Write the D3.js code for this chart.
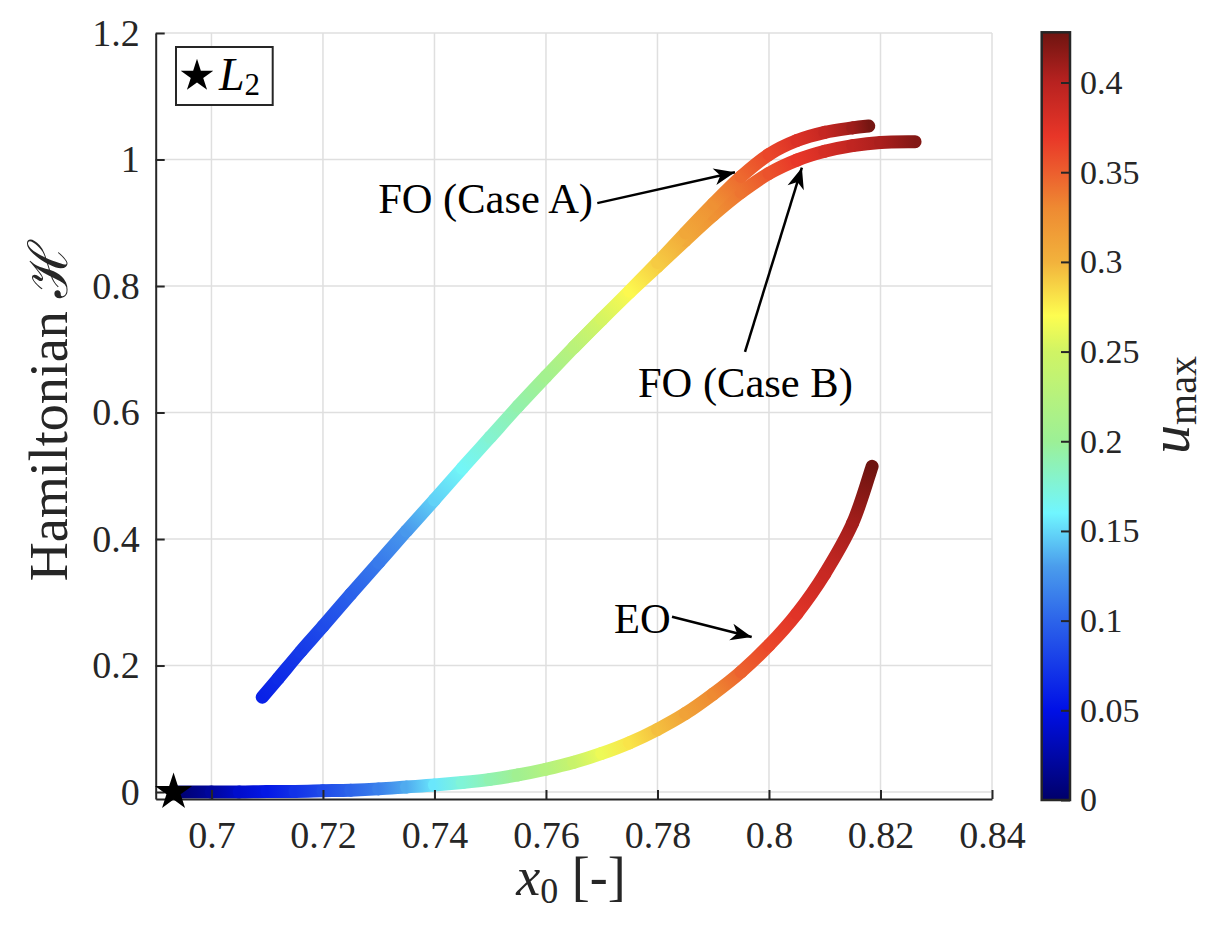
<!DOCTYPE html>
<html>
<head>
<meta charset="utf-8">
<script src="https://cdn.jsdelivr.net/npm/d3@7"></script>
<style>
  body { margin: 0; background: #fff; }
  svg { display: block; font-family: 'Liberation Serif', 'Times New Roman', serif; }
</style>
</head>
<body>
<svg id="chart" width="1206" height="928"></svg>
<script>
// FO (Case A)
const foAx = [0.7091, 0.712, 0.716, 0.72, 0.725, 0.73, 0.735, 0.74, 0.745, 0.75, 0.755, 0.76, 0.765, 0.77, 0.775, 0.78, 0.785, 0.79, 0.795, 0.8, 0.805, 0.81, 0.815, 0.8179];
const foAH = [0.15, 0.18, 0.222, 0.262, 0.313, 0.363, 0.413, 0.462, 0.512, 0.561, 0.61, 0.657, 0.703, 0.748, 0.792, 0.837, 0.884, 0.93, 0.973, 1.008, 1.03, 1.043, 1.05, 1.053];
const foAU = [0.06, 0.066, 0.075, 0.085, 0.098, 0.112, 0.128, 0.148, 0.163, 0.178, 0.192, 0.207, 0.228, 0.252, 0.272, 0.29, 0.308, 0.325, 0.345, 0.362, 0.378, 0.392, 0.41, 0.425];

// FO (Case B), splits off from case A
const foBx = [0.765, 0.77, 0.775, 0.78, 0.785, 0.79, 0.795, 0.8, 0.805, 0.81, 0.815, 0.82, 0.8262];
const foBH = [0.703, 0.747, 0.79, 0.831, 0.872, 0.912, 0.948, 0.978, 0.999, 1.013, 1.022, 1.027, 1.028];
const foBU = [0.228, 0.252, 0.272, 0.289, 0.306, 0.323, 0.34, 0.356, 0.37, 0.382, 0.395, 0.405, 0.42];

// EO
const eoX = [0.6932, 0.7, 0.705, 0.71, 0.715, 0.72, 0.725, 0.73, 0.735, 0.74, 0.745, 0.75, 0.755, 0.76, 0.765, 0.77, 0.775, 0.78, 0.785, 0.79, 0.795, 0.8, 0.805, 0.81, 0.815, 0.8185];
const eoH = [0, 0, 0, 0.001, 0.001, 0.002, 0.003, 0.005, 0.008, 0.011, 0.015, 0.02, 0.027, 0.036, 0.047, 0.061, 0.078, 0.099, 0.124, 0.155, 0.19, 0.232, 0.282, 0.345, 0.425, 0.515];
const eoU = [0, 0.02, 0.04, 0.055, 0.07, 0.085, 0.1, 0.115, 0.135, 0.155, 0.175, 0.19, 0.205, 0.222, 0.242, 0.263, 0.28, 0.295, 0.312, 0.33, 0.348, 0.362, 0.375, 0.39, 0.408, 0.428];

const l2X = 0.6932;
const l2H = 0;

const xTicks = [0.7, 0.72, 0.74, 0.76, 0.78, 0.8, 0.82, 0.84];
const xTickLabels = ['0.7', '0.72', '0.74', '0.76', '0.78', '0.8', '0.82', '0.84'];
const yTicks = [0, 0.2, 0.4, 0.6, 0.8, 1, 1.2];
const yTickLabels = ['0', '0.2', '0.4', '0.6', '0.8', '1', '1.2'];
const cbTicks = [0, 0.05, 0.1, 0.15, 0.2, 0.25, 0.3, 0.35, 0.4];
const cbTickLabels = ['0', '0.05', '0.1', '0.15', '0.2', '0.25', '0.3', '0.35', '0.4'];

const cmapVals = [0, 0.05, 0.1, 0.13, 0.16, 0.2, 0.25, 0.27, 0.3, 0.33, 0.35, 0.37, 0.4, 0.428];
const cmapColors = ['#00006a', '#0010e6', '#2c64ea', '#4a9cec', '#70f6ff', '#9cf096', '#d0f464', '#fdfd50', '#f2b23c', '#ee8a32', '#ec5e2e', '#e83628', '#b82220', '#6e1410'];

// annotations: text position, arrow tail, arrow tip (data units)
const notes = [
  {label: 'FO (Case A)', tx: 0.7299, th: 0.915, ax: 0.7692, ah: 0.931, bx: 0.7939, bh: 0.98},
  {label: 'FO (Case B)', tx: 0.7765, th: 0.625, ax: 0.7957, ah: 0.696, bx: 0.8059, bh: 0.987},
  {label: 'EO', tx: 0.7722, th: 0.251, ax: 0.7826, ah: 0.277, bx: 0.7969, bh: 0.245},
];

const svg = d3.select('#chart');
const defs = svg.append('defs');
const axisColor = '#262626';

const x = d3.scaleLinear().domain([0.69, 0.84]).range([155.7, 992]);
const y = d3.scaleLinear().domain([-0.011, 1.2]).range([799, 33]);
const color = d3.scaleLinear().domain(cmapVals).range(cmapColors).interpolate(d3.interpolateRgb);

// grid
const grid = svg.append('g').attr('stroke', '#dfdfdf').attr('stroke-width', 1.5);
grid.selectAll('.gx').data(xTicks).join('line')
  .attr('x1', (d) => x(d)).attr('x2', (d) => x(d)).attr('y1', y.range()[0]).attr('y2', y.range()[1]);
grid.selectAll('.gy').data(yTicks).join('line')
  .attr('y1', (d) => y(d)).attr('y2', (d) => y(d)).attr('x1', x.range()[0]).attr('x2', x.range()[1]);

// colored curves, one gradient per segment, cardinal-smoothed
function drawCurve(xs, hs, us, id) {
  const pts = xs.map((v, i) => [x(v), y(hs[i])]);
  const g = svg.append('g');
  for (let i = 0; i < pts.length - 1; i++) {
    const p0 = pts[Math.max(i - 1, 0)];
    const p1 = pts[i];
    const p2 = pts[i + 1];
    const p3 = pts[Math.min(i + 2, pts.length - 1)];
    const c1 = [p1[0] + (p2[0] - p0[0]) / 6, p1[1] + (p2[1] - p0[1]) / 6];
    const c2 = [p2[0] - (p3[0] - p1[0]) / 6, p2[1] - (p3[1] - p1[1]) / 6];
    const gid = `${id}-${i}`;
    const grad = defs.append('linearGradient').attr('id', gid).attr('gradientUnits', 'userSpaceOnUse')
      .attr('x1', p1[0]).attr('y1', p1[1]).attr('x2', p2[0]).attr('y2', p2[1]);
    grad.append('stop').attr('offset', 0).attr('stop-color', color(us[i]));
    grad.append('stop').attr('offset', 1).attr('stop-color', color(us[i + 1]));
    g.append('path')
      .attr('d', `M${p1}C${c1} ${c2} ${p2}`)
      .attr('fill', 'none')
      .attr('stroke', `url(#${gid})`)
      .attr('stroke-width', 13)
      .attr('stroke-linecap', 'round');
  }
}

drawCurve(eoX, eoH, eoU, 'eo');
drawCurve(foBx, foBH, foBU, 'fob');
drawCurve(foAx, foAH, foAU, 'foa');

// axes
const xAxis = svg.append('g').attr('transform', `translate(0,${y.range()[0]})`)
  .call(d3.axisBottom(x).tickValues(xTicks).tickFormat((d, i) => xTickLabels[i]).tickSizeInner(-9).tickSizeOuter(0).tickPadding(22));
const yAxis = svg.append('g').attr('transform', `translate(${x.range()[0]},0)`)
  .call(d3.axisLeft(y).tickValues(yTicks).tickFormat((d, i) => yTickLabels[i]).tickSizeInner(-9).tickSizeOuter(0).tickPadding(16));
[xAxis, yAxis].forEach((a) => {
  a.attr('font-family', null).attr('font-size', 38);
  a.select('.domain').attr('stroke', axisColor).attr('stroke-width', 2);
  a.selectAll('.tick line').attr('stroke', axisColor).attr('stroke-width', 2);
  a.selectAll('.tick text').attr('fill', axisColor);
});

// L2 point
svg.append('path')
  .attr('transform', `translate(${x(l2X)},${y(l2H)})`)
  .attr('d', d3.symbol(d3.symbolStar, 430)())
  .attr('fill', '#000');

// annotations
defs.append('marker').attr('id', 'head').attr('markerUnits', 'userSpaceOnUse')
  .attr('viewBox', '-22 -10 23 20').attr('markerWidth', 23).attr('markerHeight', 20)
  .attr('refX', 0).attr('refY', 0).attr('orient', 'auto')
  .append('path').attr('d', 'M0,0L-21,-8.5L-15,0L-21,8.5Z').attr('fill', '#000');

const noteG = svg.append('g');
notes.forEach((n) => {
  noteG.append('line')
    .attr('x1', x(n.ax)).attr('y1', y(n.ah)).attr('x2', x(n.bx)).attr('y2', y(n.bh))
    .attr('stroke', '#000').attr('stroke-width', 2.5).attr('marker-end', 'url(#head)');
  noteG.append('text')
    .attr('x', x(n.tx)).attr('y', y(n.th))
    .attr('font-size', 42.5).attr('fill', '#000')
    .text(n.label);
});

// legend
const leg = svg.append('g').attr('transform', 'translate(176,47)');
leg.append('rect').attr('width', 96.7).attr('height', 58).attr('fill', '#fff')
  .attr('stroke', axisColor).attr('stroke-width', 2);
leg.append('path').attr('transform', 'translate(21,29)').attr('d', d3.symbol(d3.symbolStar, 330)()).attr('fill', '#000');
const legText = leg.append('text').attr('x', 43).attr('y', 43).attr('font-size', 46);
legText.append('tspan').attr('font-style', 'italic').text('L');
legText.append('tspan').attr('font-size', 31).attr('dy', 5).text('2');

// axis labels
const xLabel = svg.append('text').attr('x', 571).attr('y', 895).attr('text-anchor', 'middle')
  .attr('font-size', 54).attr('fill', axisColor);
xLabel.append('tspan').attr('font-style', 'italic').text('x');
xLabel.append('tspan').attr('font-size', 36).attr('dy', 8).text('0');
xLabel.append('tspan').attr('dy', -8).text('\u00a0[-]');

svg.append('text')
  .attr('transform', 'translate(67,411) rotate(-90)')
  .attr('text-anchor', 'middle').attr('font-size', 54).attr('fill', axisColor)
  .text('Hamiltonian \u210b');

// colorbar
const cb = d3.scaleLinear().domain([0, 0.428]).range([800, 32.3]);
const cbX = 1041.7;
const cbW = 28.3;
const cbGrad = defs.append('linearGradient').attr('id', 'cbgrad')
  .attr('x1', 0).attr('y1', 1).attr('x2', 0).attr('y2', 0);
cmapVals.forEach((v, i) => {
  cbGrad.append('stop').attr('offset', v / 0.428).attr('stop-color', cmapColors[i]);
});
svg.append('rect').attr('x', cbX).attr('y', cb.range()[1]).attr('width', cbW)
  .attr('height', cb.range()[0] - cb.range()[1]).attr('fill', 'url(#cbgrad)')
  .attr('stroke', axisColor).attr('stroke-width', 2.5);
const cbAxis = svg.append('g').attr('transform', `translate(${cbX + cbW},0)`)
  .call(d3.axisRight(cb).tickValues(cbTicks).tickFormat((d, i) => cbTickLabels[i]).tickSizeInner(-9).tickSizeOuter(0).tickPadding(10));
cbAxis.attr('font-family', null).attr('font-size', 34);
cbAxis.select('.domain').remove();
cbAxis.selectAll('.tick line').attr('stroke', axisColor).attr('stroke-width', 2);
cbAxis.selectAll('.tick text').attr('fill', axisColor);

const cbLabel = svg.append('text')
  .attr('transform', 'translate(1189,405) rotate(-90)')
  .attr('text-anchor', 'middle').attr('font-size', 58).attr('fill', axisColor);
cbLabel.append('tspan').attr('font-style', 'italic').text('u');
cbLabel.append('tspan').attr('font-size', 40).attr('dy', 7).text('max');
</script>
</body>
</html>
